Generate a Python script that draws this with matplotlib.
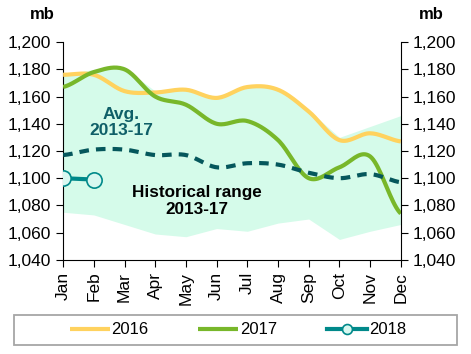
import numpy as np
import matplotlib.pyplot as plt
from matplotlib.ticker import FuncFormatter
from matplotlib.patches import Rectangle

plt.rcParams['font.family'] = ['Liberation Sans', 'DejaVu Sans']

mesi = ["Jan", "Feb", "Mar", "Apr", "May", "Jun", "Jul", "Aug", "Sep", "Oct", "Nov", "Dec"]
range_min = [1075, 1073, 1066, 1059, 1057, 1063, 1061, 1067, 1070, 1055, 1061, 1066]
range_max = [1176, 1180, 1181, 1164, 1165, 1160, 1168, 1166, 1150, 1130, 1138, 1146]
y2016 = [1176, 1176, 1164, 1163, 1165, 1159, 1167, 1165, 1149, 1128, 1133, 1127]
y2017 = [1167, 1178, 1180, 1160, 1154, 1140, 1142, 1128, 1100, 1108, 1116, 1074]
media = [1117, 1121, 1121, 1117, 1117, 1108, 1111, 1110, 1104, 1100, 1103, 1097]
y2018 = [1100, 1099]


def liscia(y, n=20):
    # curva Catmull-Rom per disegnare linee morbide come nell'originale
    y = np.asarray(y, dtype=float)
    p = np.concatenate([[y[0]], y, [y[-1]]])
    xs, ys = [], []
    for i in range(len(y) - 1):
        t = np.linspace(0, 1, n, endpoint=False)
        p0, p1, p2, p3 = p[i], p[i + 1], p[i + 2], p[i + 3]
        v = 0.5 * (2 * p1 + (-p0 + p2) * t + (2 * p0 - 5 * p1 + 4 * p2 - p3) * t**2
                   + (-p0 + 3 * p1 - 3 * p2 + p3) * t**3)
        xs.extend(i + t)
        ys.extend(v)
    xs.append(len(y) - 1)
    ys.append(y[-1])
    return np.array(xs), np.array(ys)


x = np.arange(len(mesi))

fig = plt.figure(figsize=(4.71, 3.54), dpi=100)
ax = fig.add_axes([0.134, 0.266, 0.717, 0.615])

ax.fill_between(x, range_min, range_max, color="#D5FBEA", lw=0, zorder=1)

xs, ys = liscia(y2016)
ax.plot(xs, ys, color="#FFD25E", lw=3, label="2016", zorder=3, solid_capstyle="butt")
xs, ys = liscia(y2017)
ax.plot(xs, ys, color="#78B72A", lw=3, label="2017", zorder=4, solid_capstyle="butt")
xs, ys = liscia(media)
ax.plot(xs, ys, color="#05575C", lw=3, ls=(0, (2.3, 1.7)), zorder=5)
ax.plot(x[:len(y2018)], y2018, color="#00898A", lw=3, marker="o", ms=11,
        mfc="#D8F8F0", mec="#00898A", mew=1.2, label="2018", zorder=6)

ax.set_xlim(0, 11)
ax.set_ylim(1040, 1200)
ax.set_yticks(range(1040, 1201, 20))
fmt = FuncFormatter(lambda v, p: f"{int(v):,}")
ax.yaxis.set_major_formatter(fmt)
ax.set_xticks(x)
ax.set_xticklabels(mesi, rotation=90)
ax.tick_params(labelsize=12.5, colors="black", direction="out", length=5)
for s in ["top", "right"]:
    ax.spines[s].set_visible(False)

ax2 = ax.twinx()
ax2.set_ylim(1040, 1200)
ax2.set_yticks(range(1040, 1201, 20))
ax2.yaxis.set_major_formatter(fmt)
ax2.tick_params(labelsize=12.5, direction="out", length=5)
for s in ["top", "left", "bottom"]:
    ax2.spines[s].set_visible(False)

ax.text(1.9, 1141, "Avg.\n2013-17", ha="center", va="center", fontsize=12.5,
        fontweight="bold", color="#0F5F68", linespacing=1.15, zorder=7)
ax.text(4.36, 1083, "Historical range\n2013-17", ha="center", va="center", fontsize=12.3,
        fontweight="bold", color="black", linespacing=1.15, zorder=7)

fig.text(0.09, 0.96, "mb", ha="center", va="center", fontsize=12, fontweight="bold")
fig.text(0.915, 0.96, "mb", ha="center", va="center", fontsize=12, fontweight="bold")

# cornice della legenda disegnata a mano, più larga del contenuto
fig.patches.append(Rectangle((14 / 471, 1 - 345 / 354), 443 / 471, 30 / 354,
                             transform=fig.transFigure, fill=False,
                             edgecolor="#A6A6A6", lw=1.3))
handles, labels = ax.get_legend_handles_labels()
leg = fig.legend(handles, labels, loc="center", bbox_to_anchor=(0.505, 0.068), ncol=3,
                 fontsize=12, frameon=False, handlelength=2.4, columnspacing=3.0,
                 handletextpad=0.1, markerscale=0.65)

fig.savefig("out.png", dpi=100)
